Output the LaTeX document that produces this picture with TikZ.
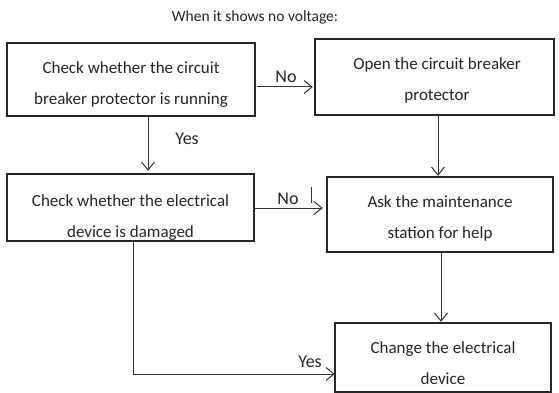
\documentclass[tikz,border=0pt]{standalone}
\usepackage{fontspec}
\setmainfont{Carlito}
\usetikzlibrary{arrows.meta}
\begin{document}
\begin{tikzpicture}[x=1pt,y=-1pt,
  box/.style={draw=black!85,line width=1.5pt,rectangle,inner sep=0pt},
  boxtxt/.style={align=center,font=\fontsize{17}{31}\selectfont,text=black!85,inner sep=0pt},
  lbl/.style={font=\fontsize{18}{20}\selectfont,text=black!85,inner sep=0pt},
  arr/.style={draw=black!80,line width=1pt,-{Straight Barb[length=8pt,width=13pt,line width=1pt]}},
  conn/.style={draw=black!80,line width=1pt}]
\useasboundingbox (0,0) rectangle (559,393);
\fill[white] (0,0) rectangle (559,393);
% title
\node[font=\fontsize{15.5}{18}\selectfont,text=black!85,inner sep=0pt] (title) at (255,17) {When it shows no voltage:};
% box positions
\node[minimum width=248pt,minimum height=73pt,inner sep=0pt] (A) at (131,79.5) {};
\node[minimum width=239pt,minimum height=76pt,inner sep=0pt] (B) at (434.5,77) {};
\node[minimum width=247pt,minimum height=67pt,inner sep=0pt] (C) at (130.5,207.5) {};
\node[minimum width=226pt,minimum height=75pt,inner sep=0pt] (D) at (440,214.5) {};
\node[minimum width=216pt,minimum height=69pt,inner sep=0pt] (E) at (443,357.5) {};
% texts
\node[boxtxt] (tA) at (131,84.5) {Check whether the circuit\\breaker protector is running};
\node[boxtxt] (tB) at (437,80.5) {Open the circuit breaker\\protector};
\begin{scope}
\clip (C.north west) rectangle (C.south east);
\node[boxtxt] (tC) at (130.5,218) {Check whether the electrical\\device is damaged};
\end{scope}
\node[boxtxt] (tD) at (440,218.5) {Ask the maintenance\\station for help};
\node[boxtxt] (tE) at (443,363) {Change the electrical\\device};
% box borders
\foreach \b in {A,B,C,D,E} \draw[box] (\b.north west) rectangle (\b.south east);
% labels
\node[lbl] (no1) at (286,77) {No};
\node[lbl] (yes1) at (187,139) {Yes};
\node[lbl] (no2) at (288,199) {No};
\node[lbl] (yes2) at (310,362) {Yes};
% connectors
\draw[arr,shorten <=2pt,shorten >=2pt] (A.east |- 0,87) -- (B.west |- 0,87);
\draw[arr,shorten <=1pt,shorten >=3pt] (A.south -| 148,0) -- (C.north -| 148,0);
\draw[arr,shorten >=1pt] (B.south -| 438,0) -- (D.north -| 438,0);
\draw[arr,shorten <=1pt,shorten >=4pt] (C.east |- 0,208) -- (D.west |- 0,208);
\draw[arr,shorten >=1pt] (D.south -| 441,0) -- (E.north -| 441,0);
\coordinate (ce) at (133,374);
\draw[conn] (C.south -| ce) -- (ce);
\draw[arr] (ce) -- (E.west |- ce);
% stray cursor mark
\draw[black!80,line width=1pt] (311,187) -- (311,203);
\end{tikzpicture}
\end{document}
